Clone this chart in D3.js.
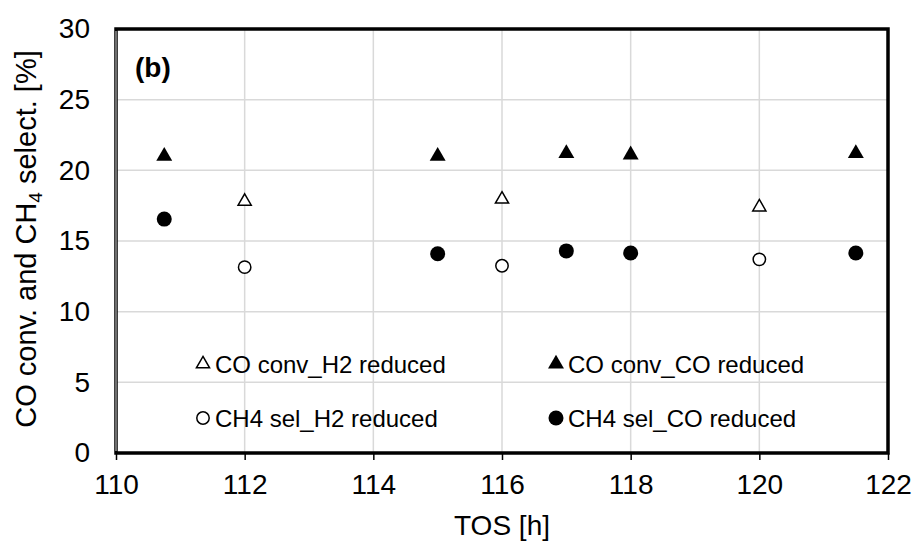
<!DOCTYPE html>
<html>
<head>
<meta charset="utf-8">
<script src="https://d3js.org/d3.v7.min.js"></script>
<style>
  html, body { margin: 0; padding: 0; background: #fff; }
  svg { display: block; font-family: "Liberation Sans", Arial, sans-serif; }
</style>
</head>
<body>
<svg width="916" height="545"></svg>
<script>
// data
const xTicks = [110, 112, 114, 116, 118, 120, 122];
const yTicks = [0, 5, 10, 15, 20, 25, 30];

const tosH2 = [112, 116, 120];
const convH2 = [17.8, 17.95, 17.4];
const selH2 = [13.15, 13.25, 13.7];

const tosCO = [110.75, 115, 117, 118, 121.5];
const convCO = [21.0, 21.0, 21.2, 21.1, 21.2];
const selCO = [16.55, 14.1, 14.3, 14.15, 14.15];

const svg = d3.select("svg");
const m = { left: 116, top: 29, right: 888, bottom: 453 };
const font = "Liberation Sans, Arial, sans-serif";

const x = d3.scaleLinear().domain([110, 122]).range([m.left, m.right]);
const y = d3.scaleLinear().domain([0, 30]).range([m.bottom, m.top]);

// grid
svg.append("g").selectAll("line").data(xTicks.slice(1, -1)).join("line")
  .attr("x1", d => x(d)).attr("x2", d => x(d))
  .attr("y1", m.top).attr("y2", m.bottom)
  .attr("stroke", "#d9d9d9").attr("stroke-width", 1.5);
svg.append("g").selectAll("line").data(yTicks.slice(1, -1)).join("line")
  .attr("y1", d => y(d)).attr("y2", d => y(d))
  .attr("x1", m.left).attr("x2", m.right)
  .attr("stroke", "#d9d9d9").attr("stroke-width", 1.5);

// frame
svg.append("rect")
  .attr("x", m.left).attr("y", m.top)
  .attr("width", m.right - m.left).attr("height", m.bottom - m.top)
  .attr("fill", "none").attr("stroke", "#000").attr("stroke-width", 3.5);
svg.append("line")
  .attr("x1", m.left).attr("x2", m.left)
  .attr("y1", m.top + 2).attr("y2", m.bottom - 2)
  .attr("stroke", "#ddd").attr("stroke-width", 1);

// x axis ticks + labels
const xAxis = d3.axisBottom(x).tickValues(xTicks).tickSize(7).tickPadding(14).tickFormat(d3.format("d"));
const gx = svg.append("g").attr("transform", `translate(0,${m.bottom})`).call(xAxis);
gx.select(".domain").remove();
gx.selectAll(".tick line").attr("stroke", "#000").attr("stroke-width", 1.5);
gx.selectAll("text").attr("font-size", 28).attr("fill", "#000").attr("font-family", font);

// y axis labels
const yAxis = d3.axisLeft(y).tickValues(yTicks).tickSize(0).tickPadding(26);
const gy = svg.append("g").attr("transform", `translate(${m.left},0)`).call(yAxis);
gy.select(".domain").remove();
gy.selectAll("text").attr("font-size", 28).attr("fill", "#000").attr("font-family", font);

// axis titles
svg.append("text")
  .attr("x", (m.left + m.right) / 2).attr("y", 535)
  .attr("text-anchor", "middle").attr("font-size", 28)
  .text("TOS [h]");

const yl = svg.append("text")
  .attr("transform", `translate(36,239) rotate(-90)`)
  .attr("text-anchor", "middle").attr("font-size", 29);
yl.append("tspan").text("CO conv. and CH");
yl.append("tspan").attr("font-size", 19).attr("dy", 6).text("4");
yl.append("tspan").attr("dy", -6).text(" select. [%]");

// panel label
svg.append("text").attr("x", 135).attr("y", 77)
  .attr("font-size", 28).attr("font-weight", "bold").text("(b)");

// markers
const tri = d3.symbol().type(d3.symbolTriangle);
const g = svg.append("g");

g.selectAll(".convCO").data(tosCO.map((t, i) => [t, convCO[i]])).join("path")
  .attr("transform", d => `translate(${x(d[0])},${y(d[1])})`)
  .attr("d", tri.size(110)()).attr("fill", "#000");

g.selectAll(".convH2").data(tosH2.map((t, i) => [t, convH2[i]])).join("path")
  .attr("transform", d => `translate(${x(d[0])},${y(d[1])})`)
  .attr("d", tri.size(75)()).attr("fill", "#fff").attr("stroke", "#000").attr("stroke-width", 1.5);

g.selectAll(".selCO").data(tosCO.map((t, i) => [t, selCO[i]])).join("circle")
  .attr("cx", d => x(d[0])).attr("cy", d => y(d[1])).attr("r", 7.5).attr("fill", "#000");

g.selectAll(".selH2").data(tosH2.map((t, i) => [t, selH2[i]])).join("circle")
  .attr("cx", d => x(d[0])).attr("cy", d => y(d[1])).attr("r", 6.2)
  .attr("fill", "#fff").attr("stroke", "#000").attr("stroke-width", 1.5);

// legend
const legend = [
  { label: "CO conv_H2 reduced", shape: "tri", fill: "#fff", lx: 203, ly: 364 },
  { label: "CO conv_CO reduced", shape: "tri", fill: "#000", lx: 556, ly: 364 },
  { label: "CH4 sel_H2 reduced", shape: "circ", fill: "#fff", lx: 203, ly: 418 },
  { label: "CH4 sel_CO reduced", shape: "circ", fill: "#000", lx: 556, ly: 418 }
];
const lg = svg.append("g").selectAll("g").data(legend).join("g")
  .attr("transform", d => `translate(${d.lx},${d.ly})`);
lg.filter(d => d.shape === "tri").append("path")
  .attr("d", d => tri.size(d.fill === "#000" ? 110 : 75)())
  .attr("fill", d => d.fill)
  .attr("stroke", d => d.fill === "#fff" ? "#000" : "none").attr("stroke-width", 1.5);
lg.filter(d => d.shape === "circ").append("circle")
  .attr("r", d => d.fill === "#000" ? 7.5 : 6.2)
  .attr("fill", d => d.fill)
  .attr("stroke", d => d.fill === "#fff" ? "#000" : "none").attr("stroke-width", 1.5);
lg.append("text").attr("x", 12).attr("y", 9).attr("font-size", 24).text(d => d.label);
</script>
</body>
</html>
